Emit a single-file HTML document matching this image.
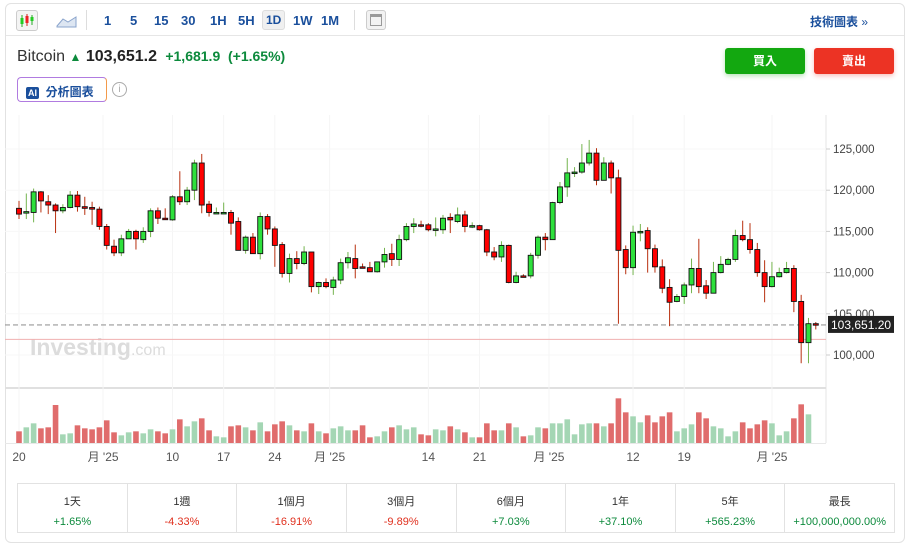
<!DOCTYPE html>
<html><head><meta charset="utf-8"><style>
*{box-sizing:border-box;margin:0;padding:0}
body{width:910px;height:548px;background:#fff;font-family:"Liberation Sans","Noto Sans CJK TC",sans-serif;position:relative;overflow:hidden}
.card{position:absolute;left:5px;top:3px;width:900px;height:540px;border:1px solid #e2e2e2;border-radius:6px}
.tb{position:absolute;left:0;top:0;width:898px;height:32px;border-bottom:1px solid #e6e6e6}
.tbi{position:absolute;top:9px;font-size:13px;font-weight:bold;color:#1a4f9c}
.abs{position:absolute}
.perf{position:absolute;left:17px;top:483px;width:878px;height:50px;border:1px solid #e2e2e2;display:flex}
.pc{flex:1;border-right:1px solid #e2e2e2;text-align:center;font-size:11px;color:#333;padding-top:9px}
.pc:last-child{border-right:none}
.pc b{display:block;font-weight:normal;font-size:11px;margin-top:7px}
.g{color:#0c8a3c}.r{color:#e0301e}
</style></head><body>
<div class="card">
<div class="tb">
 <div class="abs" style="left:10px;top:6px;width:22px;height:21px;border:1px solid #ccc;border-radius:3px;background:#f4f4f4">
  <svg width="20" height="19"><line x1="5" y1="4" x2="5" y2="16" stroke="#2a2"/><rect x="3.5" y="7" width="3" height="6" fill="#2c2"/><line x1="10" y1="3" x2="10" y2="15" stroke="#c22"/><rect x="8.5" y="5" width="3" height="7" fill="#e22"/><line x1="15" y1="4" x2="15" y2="14" stroke="#2a2"/><rect x="13.5" y="6" width="3" height="4" fill="#2c2"/></svg></div>
 <svg class="abs" style="left:50px;top:10px" width="22" height="14"><path d="M1 12 L7 5 L12 8 L20 3 L20 13 L1 13Z" fill="#dde6f2" stroke="#8aa4cc"/></svg>
 <div class="abs" style="left:80px;top:6px;width:1px;height:20px;background:#ddd"></div>
 <span class="tbi" style="left:98px">1</span>
 <span class="tbi" style="left:124px">5</span>
 <span class="tbi" style="left:148px">15</span>
 <span class="tbi" style="left:175px">30</span>
 <span class="tbi" style="left:204px">1H</span>
 <span class="tbi" style="left:232px">5H</span>
 <span class="tbi" style="left:256px;top:6px;padding:2px 3px;background:#f0f0f0;border:1px solid #ddd;border-radius:3px;font-size:12px">1D</span>
 <span class="tbi" style="left:287px">1W</span>
 <span class="tbi" style="left:315px">1M</span>
 <div class="abs" style="left:348px;top:6px;width:1px;height:20px;background:#ddd"></div>
 <div class="abs" style="left:360px;top:6px;width:20px;height:20px;border:1px solid #ccc;border-radius:3px;background:#f2f2f2"><div style="margin:3px;height:12px;border:1px solid #999;border-top-width:3px"></div></div>
 <span class="tbi" style="left:804px;font-size:12px">技術圖表 <span style="font-weight:normal">»</span></span>
</div>
<div class="abs" style="left:11px;top:44px;font-size:16px;color:#333;white-space:nowrap">Bitcoin <span style="color:#0c8a3c;font-size:12px">&#9650;</span> <b style="color:#222">103,651.2</b> <b class="g" style="font-size:14px">&nbsp;+1,681.9&nbsp; (+1.65%)</b></div>
<div class="abs" style="left:11px;top:73px;width:90px;height:25px;border:1px solid #b07be0;border-right-color:#f39a4a;border-radius:4px;font-size:12px;color:#1a4f9c;font-weight:bold;padding:5px 0 0 8px"><span style="background:#1a4f9c;color:#fff;font-size:9px;padding:1px 2px;border-radius:2px">AI</span>&nbsp; 分析圖表</div>
<div class="abs" style="left:106px;top:78px;width:15px;height:15px;border:1px solid #aaa;border-radius:50%;font-size:10px;color:#aaa;text-align:center;line-height:13px">i</div>
<div class="abs" style="left:719px;top:44px;width:80px;height:26px;background:#13a810;border-radius:3px;color:#fff;font-size:12px;font-weight:bold;text-align:center;line-height:26px;box-shadow:0 2px 5px rgba(19,168,16,.3)">買入</div>
<div class="abs" style="left:808px;top:44px;width:80px;height:26px;background:#ec3324;border-radius:3px;color:#fff;font-size:12px;font-weight:bold;text-align:center;line-height:26px;box-shadow:0 2px 5px rgba(236,51,36,.3)">賣出</div>
</div>
<svg id="chart" class="abs" style="left:0;top:0" width="910" height="480"></svg>
<div class="perf">
 <div class="pc">1天<b class="g">+1.65%</b></div>
 <div class="pc">1週<b class="r">-4.33%</b></div>
 <div class="pc">1個月<b class="r">-16.91%</b></div>
 <div class="pc">3個月<b class="r">-9.89%</b></div>
 <div class="pc">6個月<b class="g">+7.03%</b></div>
 <div class="pc">1年<b class="g">+37.10%</b></div>
 <div class="pc">5年<b class="g">+565.23%</b></div>
 <div class="pc">最長<b class="g">+100,000,000.00%</b></div>
</div>
<script>
const opens=[117.8,117.3,117.3,119.8,118.6,118.2,117.5,117.9,119.4,118,117.9,117.7,115.6,113.2,112.4,114.1,115,114,115,117.5,116.6,116.4,119.2,118.6,120,123.3,118.3,117.3,117.3,117.3,116.2,112.7,114.3,112.3,116.8,115.3,113.4,109.9,111.7,111.1,112.5,108.3,108.8,108.2,109.1,111.2,111.7,110.7,110.6,110.1,111.3,112.3,111.6,114,115.6,115.8,115.8,115.2,115.2,116.7,116.2,117,115.6,115.7,115.2,112.5,111.9,113.3,108.8,109.6,109.6,112.1,114.3,114,118.5,120.4,122.1,122.2,123.3,124.5,121.2,123.3,121.5,112.8,110.6,114.9,115.1,112.9,110.7,108.2,106.5,107.1,108.5,110.5,108.4,107.5,110,111,111.6,114.5,114,112.8,110,108.3,109.5,110,110.5,106.5,101.5,103.8];
const highs=[118.7,119.6,120.2,119.9,119.4,118.4,118.3,119.9,119.9,119.2,118.6,118,115.9,114,114.6,115.3,115.2,115.5,117.8,117.9,117.8,119.4,122.3,120.4,123.7,124.4,118.7,117.9,118.5,117.6,116.7,114.5,114.8,117.3,117.1,115.6,113.7,112.3,112.6,113.2,112.5,108.9,109.3,109.5,111.7,112.5,113.4,111.1,111.3,111.3,113,113.5,114.6,116,116.6,116.3,116,116.7,117,117.2,117.9,117.5,116.1,115.8,115.3,113.1,113.8,113.4,110.1,109.8,112.4,114.5,114.8,118.6,121,123.9,122.8,125.6,126.1,125.1,124,123.6,122.5,113.3,115.7,115.9,115.5,113.4,111.6,109.2,107.4,108.8,111.7,114.1,109.1,111.3,112,111.8,115.2,116.3,116,113.6,111.5,111.3,110.6,111.3,110.9,107.3,104.5,104];
const lows=[116.5,116.5,116.1,117.3,117.1,114.8,117.2,117.8,117.4,117,115.8,115.2,112.8,112,112,114.1,112.8,113.6,114.3,115.9,116.4,116.3,118.2,118.2,118.8,117.2,116.8,117.2,117.2,114.6,112.7,112.3,112.3,111.6,114.6,110.7,109.4,108.8,110.4,110.9,107.6,107.4,108.1,107.3,108.6,110.5,109.3,110.5,110.1,110,110.6,110.8,110.8,113.8,114.8,115.5,115,114.4,114.7,114.8,116,114.9,115.4,115.1,112,111.5,111.3,108.7,108.7,109.4,109.3,111.7,112.7,114,118.3,119.2,121.6,122,123,120.6,121.2,119.6,103.8,109.8,109.7,113.8,110,110,107.5,103.5,106.4,106.2,107.5,107.5,106.8,107.5,109.9,110.9,111.3,113.8,112.3,109.5,106.4,108.2,109.4,109.9,105.2,99,99,103.1];
const closes=[117.1,117.4,119.8,118.7,118.2,117.5,117.9,119.4,118,117.8,117.7,115.6,113.3,112.4,114.1,115,114.1,115,117.5,116.6,116.5,119.2,118.6,120,123.3,118.2,117.3,117.3,117.3,116,112.7,114.3,112.3,116.8,115.3,113.3,109.9,111.7,111.1,112.5,108.3,108.8,108.3,109.1,111.2,111.8,110.5,110.6,110.1,111.3,112.2,111.6,114,115.6,115.9,115.7,115.2,115.3,116.6,116.4,117,115.6,115.7,115.2,112.5,111.9,113.3,108.8,109.6,109.5,112.1,114.3,114,118.5,120.4,122.1,122.2,123.3,124.5,121.2,123.3,121.5,112.7,110.6,114.9,115,112.9,110.7,108.1,106.4,107.1,108.5,110.5,108.3,107.5,110,111,111.6,114.5,114,112.8,110,108.3,109.5,110,110.5,106.5,101.5,103.8,103.65];
const volumes=[35,47,59,44,47,114,26,29,53,44,41,47,68,32,23,32,35,29,41,35,29,41,71,50,65,74,38,20,17,50,53,47,38,62,35,56,65,53,38,35,59,35,29,44,50,38,38,53,17,20,35,47,53,41,47,26,23,41,38,50,41,32,17,17,59,38,38,59,47,20,23,47,44,59,59,71,26,56,59,59,50,59,134,92,80,62,83,62,80,92,35,44,56,92,74,50,44,20,35,62,44,56,68,59,23,35,74,116,86,0];
const yTicks=[125,120,115,110,105,100];
const xLabels=[[0,"20"],[11.5,"月 '25"],[21,"10"],[28,"17"],[35,"24"],[42.5,"月 '25"],[56,"14"],[63,"21"],[72.5,"月 '25"],[84,"12"],[91,"19"],[103,"月 '25"]];
const lastPrice=103.6512, refLine=101.9;

const svg=document.getElementById('chart');const NS='http://www.w3.org/2000/svg';
function el(t,a,p){const e=document.createElementNS(NS,t);for(const k in a)e.setAttribute(k,a[k]);(p||svg).appendChild(e);return e;}
const xS=i=>19+i*7.31;
const yS=v=>149+(125-v)*8.24;
const vBase=443, vS=v=>v/3;
el('line',{x1:826,y1:115,x2:826,y2:443,stroke:'#e6e6e6'});
el('line',{x1:5,y1:388,x2:826,y2:388,stroke:'#e0e0e0','stroke-width':2});
el('line',{x1:5,y1:443.5,x2:826,y2:443.5,stroke:'#e8e8e8'});
xLabels.forEach(([i,t])=>{
 const g=el('line',{x1:xS(i),y1:115,x2:xS(i),y2:443,stroke:'#f5f5f5'});
 
 const tx=el('text',{x:xS(i),y:461,'font-size':12,fill:'#555','text-anchor':'middle','font-family':'Liberation Sans, Noto Sans CJK TC, sans-serif'});
 tx.textContent=t;
 
 
});
yTicks.forEach(v=>{
 const g=el('line',{x1:5,y1:yS(v),x2:826,y2:yS(v),stroke:'#f7f7f7'});
 
 el('line',{x1:826,y1:yS(v),x2:830,y2:yS(v),stroke:'#ccc'});
 const tx=el('text',{x:833,y:yS(v)+4,'font-size':11.5,fill:'#444','font-family':'Liberation Sans, sans-serif'});
 tx.textContent=(v*1000).toLocaleString('en-US');
 
 
});
const wm=el('text',{x:30,y:355,'font-size':23,'font-weight':'bold',fill:'#dcdcdc','font-family':'Liberation Sans, sans-serif'});
wm.innerHTML='Investing<tspan font-weight="normal" font-size="16">.com</tspan>';

const rl=el('line',{x1:5,y1:yS(refLine),x2:826,y2:yS(refLine),stroke:'#f0b0b0'});

const dl=el('line',{x1:5,y1:yS(lastPrice),x2:826,y2:yS(lastPrice),stroke:'#999','stroke-dasharray':'5,3','stroke-width':1.2});

volumes.forEach((v,i)=>{
 const up=closes[i]>=opens[i];
 const r=el('rect',{x:xS(i)-2.8,y:vBase-vS(v),width:5.6,height:vS(v),fill:up?'#a4d6b4':'#e06c6c'});
 
 
});
opens.forEach((o,i)=>{
 const c=closes[i],up=c>=o,x=xS(i);
 const w=el('line',{x1:x,y1:yS(highs[i]),x2:x,y2:yS(lows[i]),stroke:up?'#74b44e':'#b8300f','stroke-width':1});
 
 
 const top=yS(Math.max(o,c)),h=Math.max(1.5,Math.abs(yS(o)-yS(c)));
 const b=el('rect',{x:x-2.5,y:top,width:5,height:h,fill:up?'#2ee03c':'#f00',stroke:'#111','stroke-width':0.9});
 
 
});
const lb=el('rect',{x:828,y:yS(lastPrice)-9,width:66,height:17,fill:'#222'});

const lt=el('text',{x:831,y:yS(lastPrice)+4,'font-size':12,fill:'#fff','font-family':'Liberation Sans, sans-serif'});
lt.textContent=(lastPrice*1000).toLocaleString('en-US',{minimumFractionDigits:2,maximumFractionDigits:2});

</script>
</body></html>
